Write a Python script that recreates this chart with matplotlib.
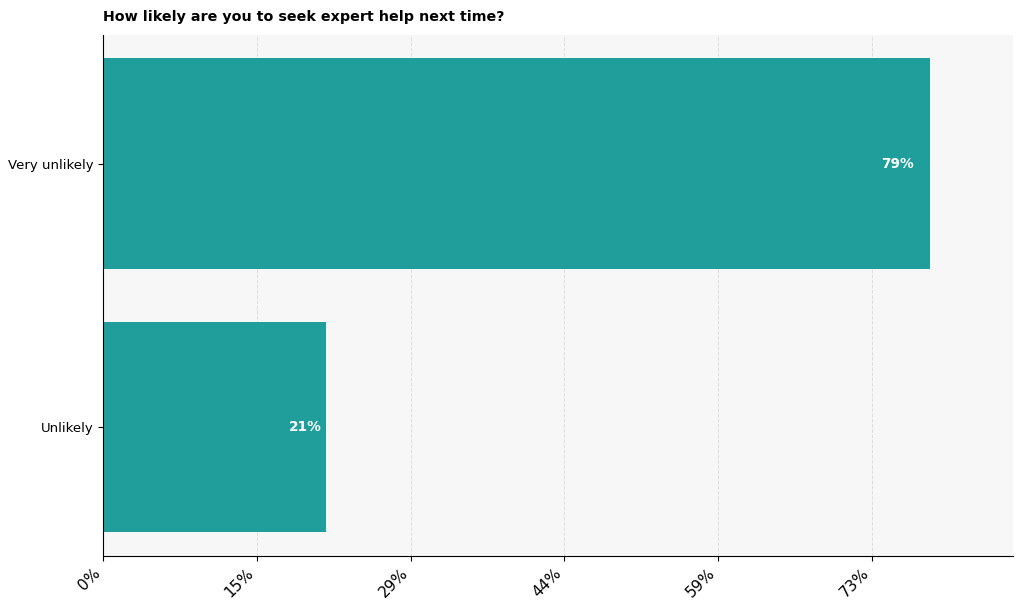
import matplotlib
matplotlib.use("Agg")
import matplotlib.pyplot as plt

categories = ["Very unlikely", "Unlikely"]
percentages = [78.95, 21.3]
tick_values = [0, 14.68, 29.36, 44.04, 58.72, 73.4]
tick_labels = ["0%", "15%", "29%", "44%", "59%", "73%"]

bar_color = "#1f9e9c"

fig, ax = plt.subplots(figsize=(10.24, 6.09), dpi=100)
fig.subplots_adjust(left=0.1006, right=0.989, top=0.943, bottom=0.087)
ax.set_facecolor("#f7f7f7")

y = list(range(len(categories)))[::-1]
bars = ax.barh(y, percentages, height=0.8, color=bar_color, zorder=2)

# labels sit just inside the bar end
for b, v in zip(bars, percentages):
    ax.text(b.get_width() * 0.98, b.get_y() + b.get_height() / 2, f"{v:.0f}%",
            ha="right", va="center", color="white", fontsize=9.8, fontweight="bold", zorder=3)

ax.set_yticks(y)
ax.set_yticklabels(categories, fontsize=9.5)
ax.set_xticks(tick_values)
ax.set_xticklabels(tick_labels, rotation=45, ha="right", fontsize=11)
ax.set_xlim(0, 86.84)

ax.grid(axis="x", linestyle="--", color="#dddddd", linewidth=0.7, zorder=0)
ax.set_axisbelow(True)
for s in ["top", "right"]:
    ax.spines[s].set_visible(False)

ax.set_title("How likely are you to seek expert help next time?", loc="left",
             fontsize=10.3, fontweight="bold", pad=10)

plt.savefig("out.png", dpi=100)
plt.close()
